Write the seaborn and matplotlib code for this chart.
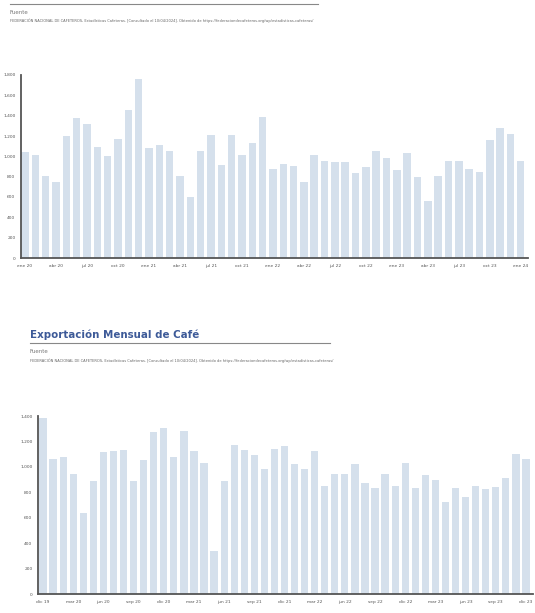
import numpy as np
import pandas as pd
import seaborn as sns
import matplotlib.pyplot as plt
from matplotlib.lines import Line2D

# datos
meses_1 = ['ene', 'feb', 'mar', 'abr', 'may', 'jun', 'jul', 'ago', 'sep', 'oct', 'nov', 'dic']
valores_1 = [1039, 1013, 810, 751, 1197, 1377, 1318, 1092, 1000, 1170, 1456, 1764,
             1085, 1115, 1056, 810, 600, 1049, 1210, 911, 1206, 1016, 1131, 1387,
             872, 928, 908, 748, 1016, 951, 947, 947, 839, 895, 1049, 984,
             869, 1036, 793, 564, 810, 957, 957, 875, 843, 1157, 1275, 1220,
             957]
valores_2 = [1387, 1062, 1078, 945, 636, 892, 1115, 1125, 1131, 892, 1052, 1272,
             1306, 1078, 1280, 1125, 1031, 338, 892, 1175, 1131, 1094, 987, 1144,
             1162, 1026, 981, 1125, 853, 947, 942, 1026, 874, 830, 940, 853,
             1034, 830, 934, 900, 720, 837, 759, 848, 822, 843, 913, 1104,
             1062]

etiquetas_1 = [f'{meses_1[i % 12]} {20 + i // 12}' for i in range(49)]
etiquetas_2 = [f'{meses_1[(i + 11) % 12]} {19 + (i + 11) // 12}' for i in range(49)]

fuente = ('FEDERACIÓN NACIONAL DE CAFETEROS, Estadísticas Cafeteras. [Consultado el 10/04/2024]. '
          'Obtenido de https://federaciondecafeteros.org/wp/estadisticas-cafeteras/')

color_barra = '#d5e0ec'
gris = '#555555'
W, H = 535, 613

fig = plt.figure(figsize=(W / 100, H / 100), dpi=100)


def px(x, y):
    return x / W, 1 - y / H


def panel(rect, etiquetas, valores, ymax, paso, x0, x1):
    ax = fig.add_axes(rect)
    df = pd.DataFrame({'mes': etiquetas, 'valor': valores})
    sns.barplot(data=df, x='mes', y='valor', color=color_barra, saturation=1,
                width=0.72, ax=ax)
    ax.set_xlim(x0, x1)
    ax.set_ylim(0, ymax)
    ax.set_yticks(range(0, ymax + 1, paso))
    ax.set_yticklabels([f'{v:,}' if v else '0' for v in range(0, ymax + 1, paso)])
    ax.set_xticks(range(0, 49, 3))
    ax.set_xticklabels(etiquetas[::3])
    ax.tick_params(length=0, labelsize=3.2, labelcolor=gris, pad=4)
    ax.set_xlabel('')
    ax.set_ylabel('')
    for s in ['top', 'right']:
        ax.spines[s].set_visible(False)
    for s in ['left', 'bottom']:
        ax.spines[s].set_color(gris)
        ax.spines[s].set_linewidth(1.3)
    return ax


# panel superior
l, b = px(21, 258)
panel([l, b, (528 - 21) / W, (258 - 75) / H], etiquetas_1, valores_1, 1800, 200, -0.39, 48.7)
fig.add_artist(Line2D([10 / W, 318 / W], [1 - 4 / H] * 2, color='#888888', lw=0.8))
fig.text(*px(10, 12), 'Fuente', fontsize=4, color='#777777', va='center')
fig.text(*px(10, 21), fuente, fontsize=2.6, color='#666666', va='center')

# panel inferior
l, b = px(38, 594)
panel([l, b, (533 - 38) / W, (594 - 416) / H], etiquetas_2, valores_2, 1400, 200, -0.5, 48.7)
fig.text(*px(30, 335), 'Exportación Mensual de Café', fontsize=7.4, fontweight='bold',
         color='#3d5a98', va='center')
fig.add_artist(Line2D([30 / W, 330 / W], [1 - 343 / H] * 2, color='#888888', lw=0.8))
fig.text(*px(30, 352), 'Fuente', fontsize=4, color='#777777', va='center')
fig.text(*px(30, 361), fuente, fontsize=2.6, color='#666666', va='center')

fig.savefig('out.png', dpi=100)
